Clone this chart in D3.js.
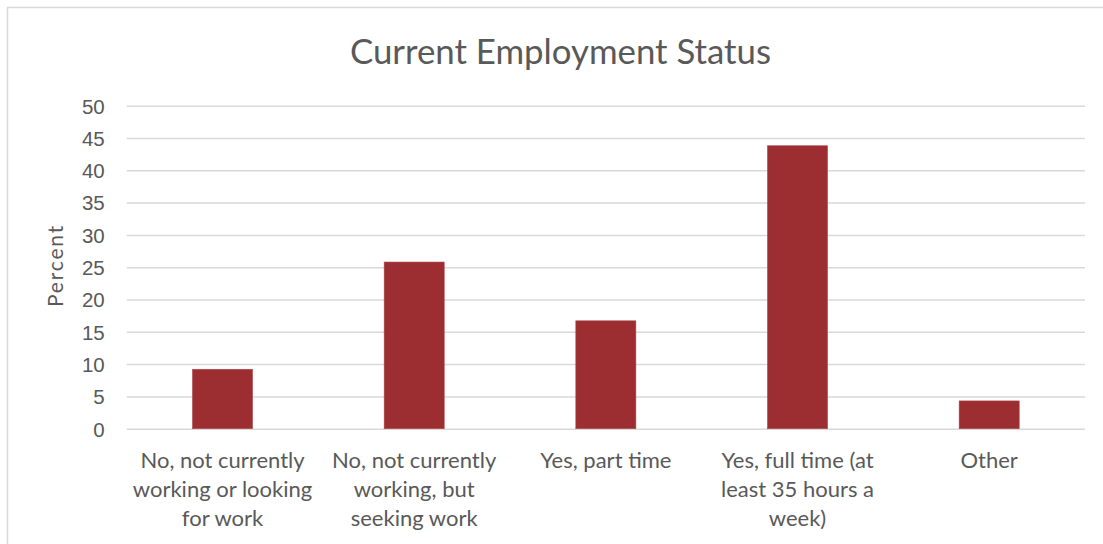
<!DOCTYPE html>
<html>
<head>
<meta charset="utf-8">
<script src="https://cdn.jsdelivr.net/npm/d3@7"></script>
<style>
  html, body { margin: 0; padding: 0; background: #fff; }
  svg { display: block; font-family: Lato, "Open Sans", sans-serif; }
</style>
</head>
<body>
<svg id="chart" width="1103" height="544"></svg>
<script>
// Employment status survey results (percent of respondents)
const categories = [
  "No, not currently working or looking for work",
  "No, not currently working, but seeking work",
  "Yes, part time",
  "Yes, full time (at least 35 hours a week)",
  "Other"
];
const categoryLines = [
  ["No, not currently", "working or looking", "for work"],
  ["No, not currently", "working, but", "seeking work"],
  ["Yes, part time"],
  ["Yes, full time (at", "least 35 hours a", "week)"],
  ["Other"]
];
const percents = [9.2, 25.8, 16.7, 43.8, 4.3];
const yTicks = [0, 5, 10, 15, 20, 25, 30, 35, 40, 45, 50];
const titleText = "Current Employment Status";
const yAxisTitle = "Percent";

const svg = d3.select("#chart");
const W = 1103, H = 544;
const plot = { left: 126.7, right: 1085, top: 105.7, bottom: 428.7 };
const textColor = "#595959";

// chart frame (runs past the right and bottom edges)
svg.append("rect")
  .attr("x", 7.5).attr("y", 7.5)
  .attr("width", W + 20).attr("height", H + 20)
  .attr("fill", "#fff").attr("stroke", "#d9d9d9").attr("stroke-width", 1.5);

const x = d3.scaleBand()
  .domain(categories)
  .range([plot.left, plot.right])
  .paddingInner(0.6867)
  .paddingOuter(0.3433);

const y = d3.scaleLinear().domain([0, 50]).range([plot.bottom, plot.top]);

// horizontal gridlines + value labels
const yAxis = d3.axisLeft(y)
  .tickValues(yTicks)
  .tickSize(-(plot.right - plot.left))
  .tickPadding(22)
  .tickFormat(d3.format("d"));

const gy = svg.append("g")
  .attr("transform", `translate(${plot.left},0)`)
  .call(yAxis);
gy.select(".domain").remove();
gy.selectAll(".tick line").attr("stroke", "#d9d9d9").attr("stroke-width", 1.5);
gy.selectAll(".tick text")
  .attr("fill", textColor)
  .style("font-size", "20.5px")
  .attr("dy", "0.36em");

// bars
svg.append("g").selectAll("rect")
  .data(categories)
  .join("rect")
  .attr("x", d => x(d))
  .attr("width", x.bandwidth())
  .attr("y", (d, i) => y(percents[i]))
  .attr("height", (d, i) => y(0) - y(percents[i]))
  .attr("fill", "#9c2d31")
  .attr("stroke", "#b0474a")
  .attr("stroke-width", 0.6);

// category labels, wrapped onto lines
const lineH = 29;
const gx = svg.append("g");
categories.forEach((c, i) => {
  const cx = x(c) + x.bandwidth() / 2;
  const t = gx.append("text")
    .attr("text-anchor", "middle")
    .attr("fill", textColor)
    .style("font-size", "22px");
  categoryLines[i].forEach((ln, j) => {
    t.append("tspan")
      .attr("x", cx)
      .attr("y", 467.5 + j * lineH)
      .text(ln);
  });
});

// axis title
svg.append("text")
  .attr("transform", "translate(62.5,265.5) rotate(-90)")
  .attr("text-anchor", "middle")
  .attr("fill", textColor)
  .style("font-size", "21px")
  .style("letter-spacing", "1.8px")
  .text(yAxisTitle);

// chart title
svg.append("text")
  .attr("x", 560.5)
  .attr("y", 64)
  .attr("text-anchor", "middle")
  .attr("fill", textColor)
  .style("font-size", "34.8px")
  .text(titleText);
</script>
</body>
</html>
